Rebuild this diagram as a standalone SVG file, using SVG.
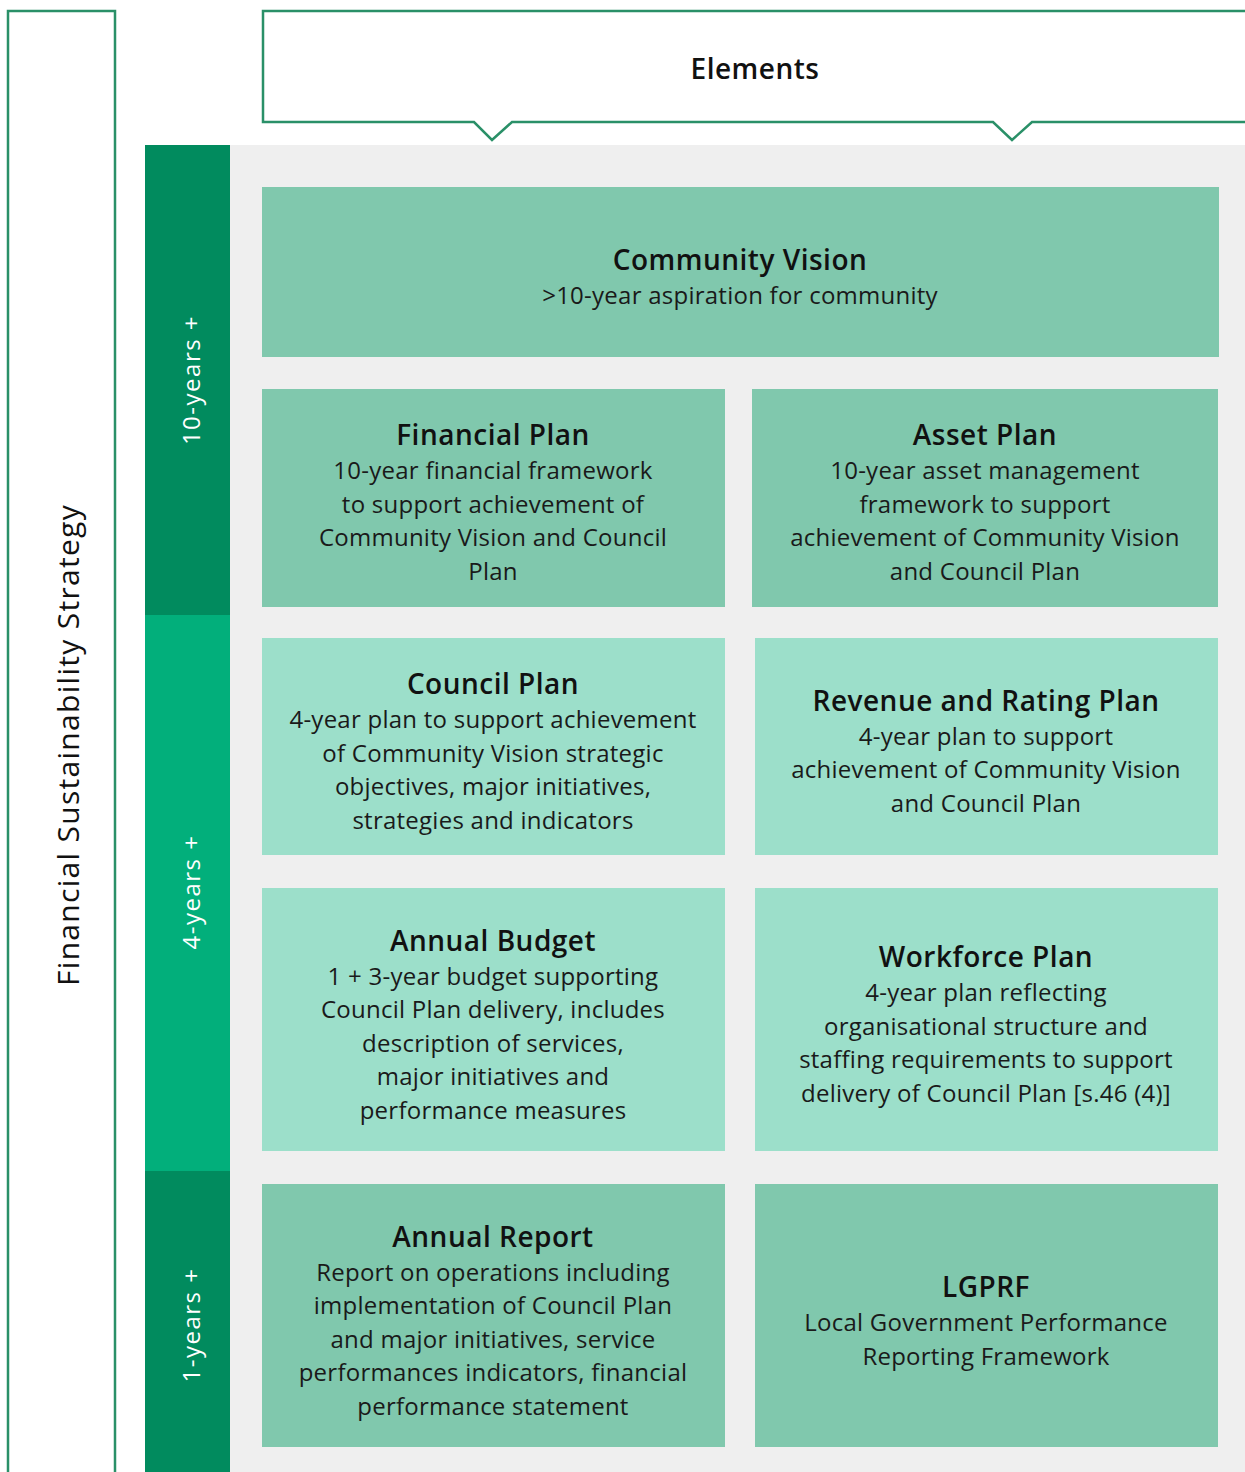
<svg xmlns="http://www.w3.org/2000/svg" width="1245" height="1472" viewBox="0 0 1245 1472">
<style>
.frame{fill:#ffffff;stroke:#2a9068;stroke-width:2.5}
.med{fill:#80c8ad}
.light{fill:#9cdfca}
.t{font-family:"Open Sans","Noto Sans",sans-serif;font-size:28px;font-weight:600;fill:#111;text-anchor:middle;letter-spacing:0.5px}
.b{font-family:"Open Sans","Noto Sans",sans-serif;font-size:24px;fill:#1a1a1a;text-anchor:middle;letter-spacing:0.25px}
.v{font-family:"Open Sans","Noto Sans",sans-serif;font-size:24px;fill:#ffffff;text-anchor:middle;letter-spacing:1.5px}
</style>
<rect width="1245" height="1472" fill="#ffffff"/>
<g id="strategy">
<path class="frame" d="M115,1475 V11 H8 V1475"/>
<text transform="translate(79,745) rotate(-90)" font-family="Open Sans, Noto Sans, sans-serif" font-size="30" font-weight="500" fill="#111" text-anchor="middle" letter-spacing="1.3">Financial Sustainability Strategy</text>
</g>
<g id="elements">
<path class="frame" d="M1250,11 H263 V122 H474 L492,140 L512,122 H993 L1012,140 L1032,122 H1250"/>
<text class="t" x="755" y="79">Elements</text>
</g>
<rect x="230" y="145" width="1015" height="1327" fill="#efefef"/>
<g id="bar-10">
<rect x="145" y="145" width="85" height="470" fill="#018b5e"/>
<text class="v" transform="translate(200,380) rotate(-90)">10-years +</text>
</g>
<g id="bar-4">
<rect x="145" y="615" width="85" height="556" fill="#02af7b"/>
<text class="v" transform="translate(200,892) rotate(-90)">4-years +</text>
</g>
<g id="bar-1">
<rect x="145" y="1171" width="85" height="301" fill="#018b5e"/>
<text class="v" transform="translate(200,1325) rotate(-90)">1-years +</text>
</g>
<g id="community-vision">
<rect class="med" x="262" y="187" width="957" height="170"/>
<text class="t" x="740" y="270">Community Vision</text>
<text class="b" x="740" y="304">&gt;10-year aspiration for community</text>
</g>
<g id="financial-plan">
<rect class="med" x="262" y="389" width="463" height="218"/>
<text class="t" x="493" y="445">Financial Plan</text>
<text class="b" x="493" y="479">10-year financial framework</text>
<text class="b" x="493" y="513">to support achievement of</text>
<text class="b" x="493" y="546">Community Vision and Council</text>
<text class="b" x="493" y="580">Plan</text>
</g>
<g id="asset-plan">
<rect class="med" x="752" y="389" width="466" height="218"/>
<text class="t" x="985" y="445">Asset Plan</text>
<text class="b" x="985" y="479">10-year asset management</text>
<text class="b" x="985" y="513">framework to support</text>
<text class="b" x="985" y="546">achievement of Community Vision</text>
<text class="b" x="985" y="580">and Council Plan</text>
</g>
<g id="council-plan">
<rect class="light" x="262" y="638" width="463" height="217"/>
<text class="t" x="493" y="694">Council Plan</text>
<text class="b" x="493" y="728">4-year plan to support achievement</text>
<text class="b" x="493" y="762">of Community Vision strategic</text>
<text class="b" x="493" y="795">objectives, major initiatives,</text>
<text class="b" x="493" y="829">strategies and indicators</text>
</g>
<g id="revenue-plan">
<rect class="light" x="755" y="638" width="463" height="217"/>
<text class="t" x="986" y="711">Revenue and Rating Plan</text>
<text class="b" x="986" y="745">4-year plan to support</text>
<text class="b" x="986" y="778">achievement of Community Vision</text>
<text class="b" x="986" y="812">and Council Plan</text>
</g>
<g id="annual-budget">
<rect class="light" x="262" y="888" width="463" height="263"/>
<text class="t" x="493" y="951">Annual Budget</text>
<text class="b" x="493" y="985">1 + 3-year budget supporting</text>
<text class="b" x="493" y="1018">Council Plan delivery, includes</text>
<text class="b" x="493" y="1052">description of services,</text>
<text class="b" x="493" y="1085">major initiatives and</text>
<text class="b" x="493" y="1119">performance measures</text>
</g>
<g id="workforce-plan">
<rect class="light" x="755" y="888" width="463" height="263"/>
<text class="t" x="986" y="967">Workforce Plan</text>
<text class="b" x="986" y="1001">4-year plan reflecting</text>
<text class="b" x="986" y="1035">organisational structure and</text>
<text class="b" x="986" y="1068">staffing requirements to support</text>
<text class="b" x="986" y="1102">delivery of Council Plan [s.46 (4)]</text>
</g>
<g id="annual-report">
<rect class="med" x="262" y="1184" width="463" height="263"/>
<text class="t" x="493" y="1247">Annual Report</text>
<text class="b" x="493" y="1281">Report on operations including</text>
<text class="b" x="493" y="1314">implementation of Council Plan</text>
<text class="b" x="493" y="1348">and major initiatives, service</text>
<text class="b" x="493" y="1381">performances indicators, financial</text>
<text class="b" x="493" y="1415">performance statement</text>
</g>
<g id="lgprf">
<rect class="med" x="755" y="1184" width="463" height="263"/>
<text class="t" x="986" y="1297">LGPRF</text>
<text class="b" x="986" y="1331">Local Government Performance</text>
<text class="b" x="986" y="1365">Reporting Framework</text>
</g>
<g id="connectors"></g>
</svg>
